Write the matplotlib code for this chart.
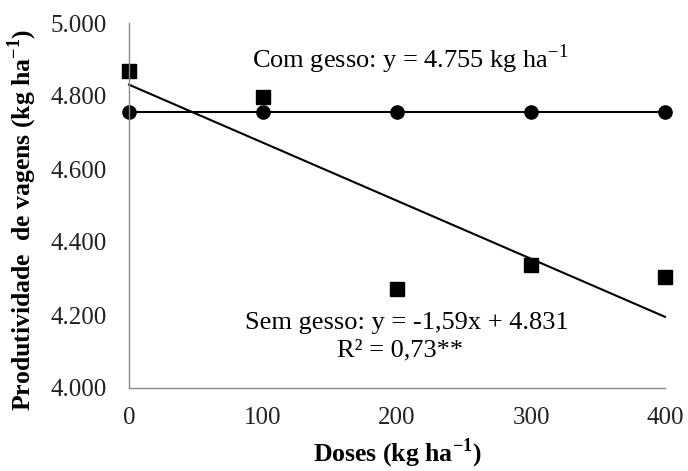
import numpy as np
import matplotlib
matplotlib.use("Agg")
import matplotlib.pyplot as plt

plt.rcParams['font.family'] = ['Liberation Serif', 'DejaVu Serif']
plt.rcParams['mathtext.fontset'] = 'custom'
plt.rcParams['mathtext.rm'] = 'Liberation Serif'
plt.rcParams['mathtext.bf'] = 'Liberation Serif:bold'

# dados
doses = [0, 100, 200, 300, 400]
sem_gesso = [4868, 4798, 4271, 4337, 4305]
com_gesso = [4755, 4755, 4755, 4755, 4755]
y_ticks = [4000, 4200, 4400, 4600, 4800, 5000]
y_tick_labels = ['4.000', '4.200', '4.400', '4.600', '4.800', '5.000']
x_ticks = [0, 100, 200, 300, 400]

# regressao sem gesso: y = -1,59x + 4831
a, b = -1.59, 4831
x_fit = np.array([0, 400])
y_fit = a * x_fit + b

fig = plt.figure(figsize=(6.88, 4.71), dpi=100)
ax = fig.add_axes([129/688, 1 - 388/471, (665 - 129)/688, (388 - 23)/471])

ax.plot(x_fit, y_fit, color='black', lw=1.5, clip_on=False)
ax.plot(doses, com_gesso, color='black', lw=1.5, marker='o', markersize=9.5, clip_on=False)
ax.plot(doses, sem_gesso, linestyle='none', color='black', marker='s', markersize=10, clip_on=False)

ax.set_xlim(0, 400)
ax.set_ylim(4000, 5000)
ax.set_xticks(x_ticks)
ax.set_yticks(y_ticks)
ax.set_yticklabels(y_tick_labels)
ax.tick_params(length=0, labelsize=18, colors='#222222')
ax.tick_params(axis='y', pad=16)
ax.tick_params(axis='x', pad=14)

for s in ['top', 'right']:
    ax.spines[s].set_visible(False)
for s in ['left', 'bottom']:
    ax.spines[s].set_color('#8a8a8a')
    ax.spines[s].set_linewidth(1)

ax.set_xlabel(r'Doses (kg ha$^{\mathbf{-1}}$)', fontsize=18.5, fontweight='bold', labelpad=5)
ax.set_ylabel(r'Produtividade  de vagens (kg ha$^{\mathbf{-1}}$)', fontsize=18.5, fontweight='bold')
ax.yaxis.set_label_coords(-0.168, 0.46)

ax.text(210, 4900, r'Com gesso: y = 4.755 kg ha$^{-1}$', fontsize=19, ha='center', va='center')
ax.text(207, 4178, 'Sem gesso: y = -1,59x + 4.831', fontsize=19, ha='center', va='center')
ax.text(202, 4102, 'R² = 0,73**', fontsize=19, ha='center', va='center')

fig.savefig('out.png', dpi=100)
